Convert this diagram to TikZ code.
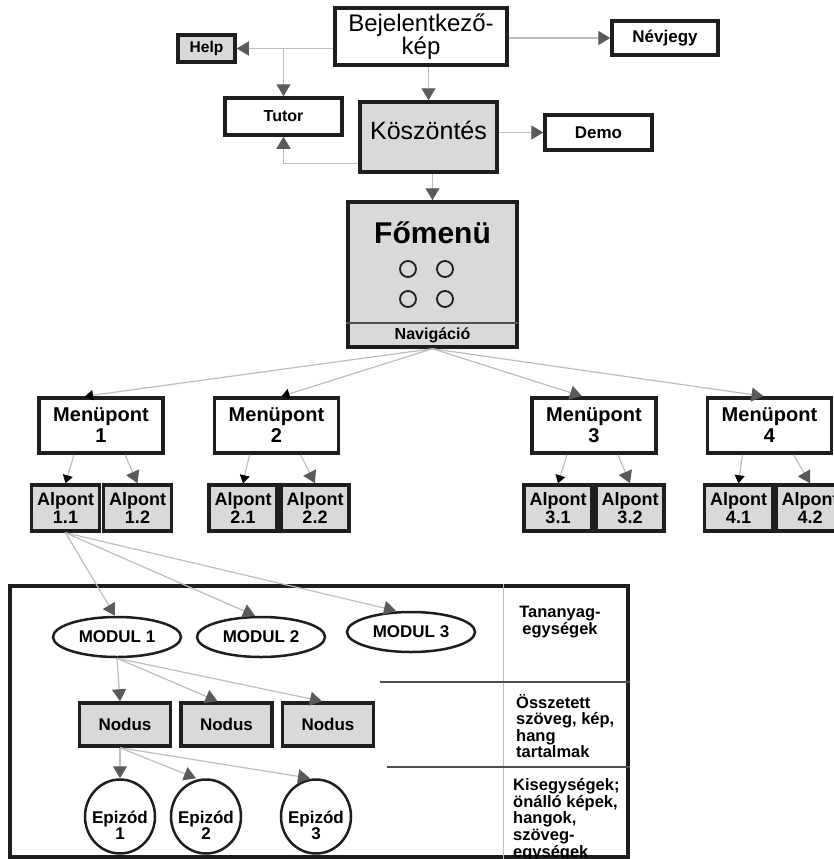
\documentclass[tikz,border=0pt]{standalone}
\usepackage{fontspec}
\setmainfont{Liberation Sans}
\usetikzlibrary{arrows.meta,shapes.geometric}
\definecolor{boxGray}{HTML}{D9D9D9}
\definecolor{lineGray}{HTML}{BDBDBD}
\definecolor{tipGray}{HTML}{5A5A5A}
\definecolor{ruleGray}{HTML}{505050}
\definecolor{frameBlack}{HTML}{1E1E1E}

\begin{document}
\begin{tikzpicture}
[x=1pt,y=-1pt,
  boxDecorate/.style={draw=frameBlack,line width=3.5pt,inner sep=0pt,align=center},%
  grayDecorate/.style={boxDecorate,fill=boxGray},%
  ovalDecorate/.style={ellipse,draw=frameBlack,line width=2.5pt,inner sep=0pt,align=center,fill=white},%
  lineDecorate/.style={draw=lineGray,line width=1.2pt,-{Triangle[length=12pt,width=14pt,color=tipGray]}},%
  darkDecorate/.style={draw=lineGray,line width=1.2pt,-{Triangle[length=8pt,width=10pt,color=black]}},%
  ruleDecorate/.style={draw=ruleGray,line width=2pt}]
\useasboundingbox (0,0) rectangle (834,859);
\clip (0,0) rectangle (834,859);
%% start screen and its neighbours
\node (bejel) at (421,36.5) [boxDecorate,minimum width=172pt,minimum height=57pt,
  font=\fontsize{24}{23}\selectfont] {Bejelentkező-\\kép};
\node (help) at (206.5,48.5) [grayDecorate,minimum width=57pt,minimum height=27pt,
  font=\fontsize{15.5}{15}\selectfont\bfseries] {Help};
\node (tutor) at (283.5,116.5) [boxDecorate,minimum width=117pt,minimum height=37pt,
  font=\fontsize{16}{15}\selectfont\bfseries] {Tutor};
\node (koszon) at (428.5,137) [grayDecorate,minimum width=137pt,minimum height=70pt,
  text height=18pt,text depth=14pt,font=\fontsize{25}{25}\selectfont] {Köszöntés};
\node (nevjegy) at (665,38) [boxDecorate,minimum width=106pt,minimum height=34pt,
  font=\fontsize{17}{17}\selectfont\bfseries] {Névjegy};
\node (demo) at (598.5,132.5) [boxDecorate,minimum width=107pt,minimum height=35pt,
  font=\fontsize{17}{17}\selectfont\bfseries] {Demo};
%% main menu
\node (fomenu) at (432.5,274.5) [grayDecorate,minimum width=169pt,minimum height=145pt] {};
\node (fotitle) at (432.5,232) [text height=22pt,text depth=0pt,
  font=\fontsize{30}{30}\selectfont\bfseries] {Főmenü};
\foreach \nodename/\x/\y in {c1/408/269, c2/445/269, c3/408/299, c4/445/299}
{
  \node (\nodename) at (\x,\y) [circle,draw=frameBlack,line width=1.8pt,minimum size=16pt,inner sep=0pt] {};
}
\node (navtext) at (432.5,333) [text height=12pt,text depth=0pt,
  font=\fontsize{16}{16}\selectfont\bfseries] {Navigáció};
\draw[ruleDecorate] (fomenu.west |- 0,323) -- (fomenu.east |- 0,323);
%% menu items and sub items
\foreach \nodename/\x/\nr in {m1/101/1, m2/276.5/2, m3/594/3, m4/769.5/4}
{
  \node (\nodename) at (\x,425.5) [boxDecorate,minimum width=124pt,minimum height=55pt,
    font=\fontsize{20}{21}\selectfont\bfseries] {Menüpont\\\nr};
}
\foreach \nodename/\x/\nr in {a11/65.5/1.1, a12/137.5/1.2, a21/243/2.1, a22/315/2.2,
  a31/558/3.1, a32/630/3.2, a41/738.5/4.1, a42/810/4.2}
{
  \node (\nodename) at (\x,508) [grayDecorate,minimum width=68pt,minimum height=46pt,
    font=\fontsize{18}{18}\selectfont\bfseries] {Alpont\\\nr};
}
%% learning unit frame
\node (unitbox) at (319,721.5) [draw=frameBlack,line width=3.5pt,minimum width=618pt,
  minimum height=271pt,inner sep=0pt] {};
\draw[draw=lineGray,line width=1pt] (unitbox.north -| 503,0) -- (unitbox.south -| 503,0);
\draw[ruleDecorate] (380,682) -- (unitbox.east |- 0,682);
\draw[ruleDecorate] (387,767) -- (unitbox.east |- 0,767);
\foreach \nodename/\x/\y/\nr in {mod1/117/637/1, mod2/261/637/2, mod3/411/632/3}
{
  \node (\nodename) at (\x,\y) [ovalDecorate,minimum width=128pt,minimum height=40pt,
    font=\fontsize{17}{17}\selectfont\bfseries] {MODUL \nr};
}
\foreach \nodename/\x in {nd1/125, nd2/226.5, nd3/328}
{
  \node (\nodename) at (\x,724.5) [grayDecorate,minimum width=91pt,minimum height=43pt,
    font=\fontsize{17}{17}\selectfont\bfseries] {Nodus};
}
\foreach \nodename/\x/\nr in {ep1/120/1, ep2/206/2, ep3/316/3}
{
  \node (\nodename) at (\x,816.5) [ovalDecorate,minimum width=70pt,minimum height=74pt,
    label={[font=\fontsize{17}{16}\selectfont\bfseries,align=center,yshift=-9pt]center:Epizód\\\nr}] {};
}
%% level texts
\node (tananyag) at (560,622) [align=center,inner sep=0pt,
  font=\fontsize{16.5}{15.5}\selectfont\bfseries] {Tananyag-\\egységek};
\node (osszetett) at (516,694) [anchor=north west,inner sep=0pt,align=left,
  font=\fontsize{16.5}{16.5}\selectfont\bfseries] {Összetett\\szöveg, kép,\\hang\\tartalmak};
\node (kisegyseg) at (513,778) [anchor=north west,inner sep=0pt,align=left,
  font=\fontsize{16.5}{16.8}\selectfont\bfseries] {Kisegységek;\\önálló képek,\\hangok,\\szöveg-\\egységek};
%% edges
\draw[lineDecorate] (bejel.west |- help.east) -- (help.east);
\draw[lineDecorate] (tutor.north |- help.east) -- (tutor.north);
\draw[lineDecorate] (koszon.north |- bejel.south) -- (koszon.north);
\draw[lineDecorate] (bejel.east |- nevjegy.west) -- (nevjegy.west);
\draw[lineDecorate] (koszon.east |- demo.west) -- (demo.west);
\draw[lineDecorate] ([yshift=10pt]koszon.south west) -| (tutor.south);
\draw[lineDecorate] (fomenu.north |- koszon.south) -- (fomenu.north);
\path
\foreach \endnode/\dx/\tip in {m1/-16/darkDecorate, m2/5/darkDecorate, m3/-12/lineDecorate, m4/-6/lineDecorate}
{
  (fomenu.south) edge[\tip] ([xshift=\dx pt]\endnode.north)
};
\path
\foreach \startnode/\endnode in {m1/a11, m2/a21, m3/a31, m4/a41}
{
  ([xshift=-27pt]\startnode.south) edge[darkDecorate] (\endnode.north)
};
\path
\foreach \startnode/\endnode in {m1/a12, m2/a22, m3/a32, m4/a42}
{
  ([xshift=24pt]\startnode.south) edge[lineDecorate] (\endnode.north)
};
\path
\foreach \endnode/\dx in {mod1/-2, mod2/-6, mod3/-15}
{
  (a11.south) edge[lineDecorate] ([xshift=\dx pt]\endnode.north)
};
\path
\foreach \endnode/\dx in {nd1/-5, nd2/-9, nd3/-6}
{
  (mod1.south) edge[lineDecorate] ([xshift=\dx pt]\endnode.north)
};
\path
\foreach \endnode/\dx in {ep1/0, ep2/-10, ep3/-6}
{
  ([xshift=-5pt]nd1.south) edge[lineDecorate] ([xshift=\dx pt]\endnode.north)
};
\end{tikzpicture}
\end{document}
